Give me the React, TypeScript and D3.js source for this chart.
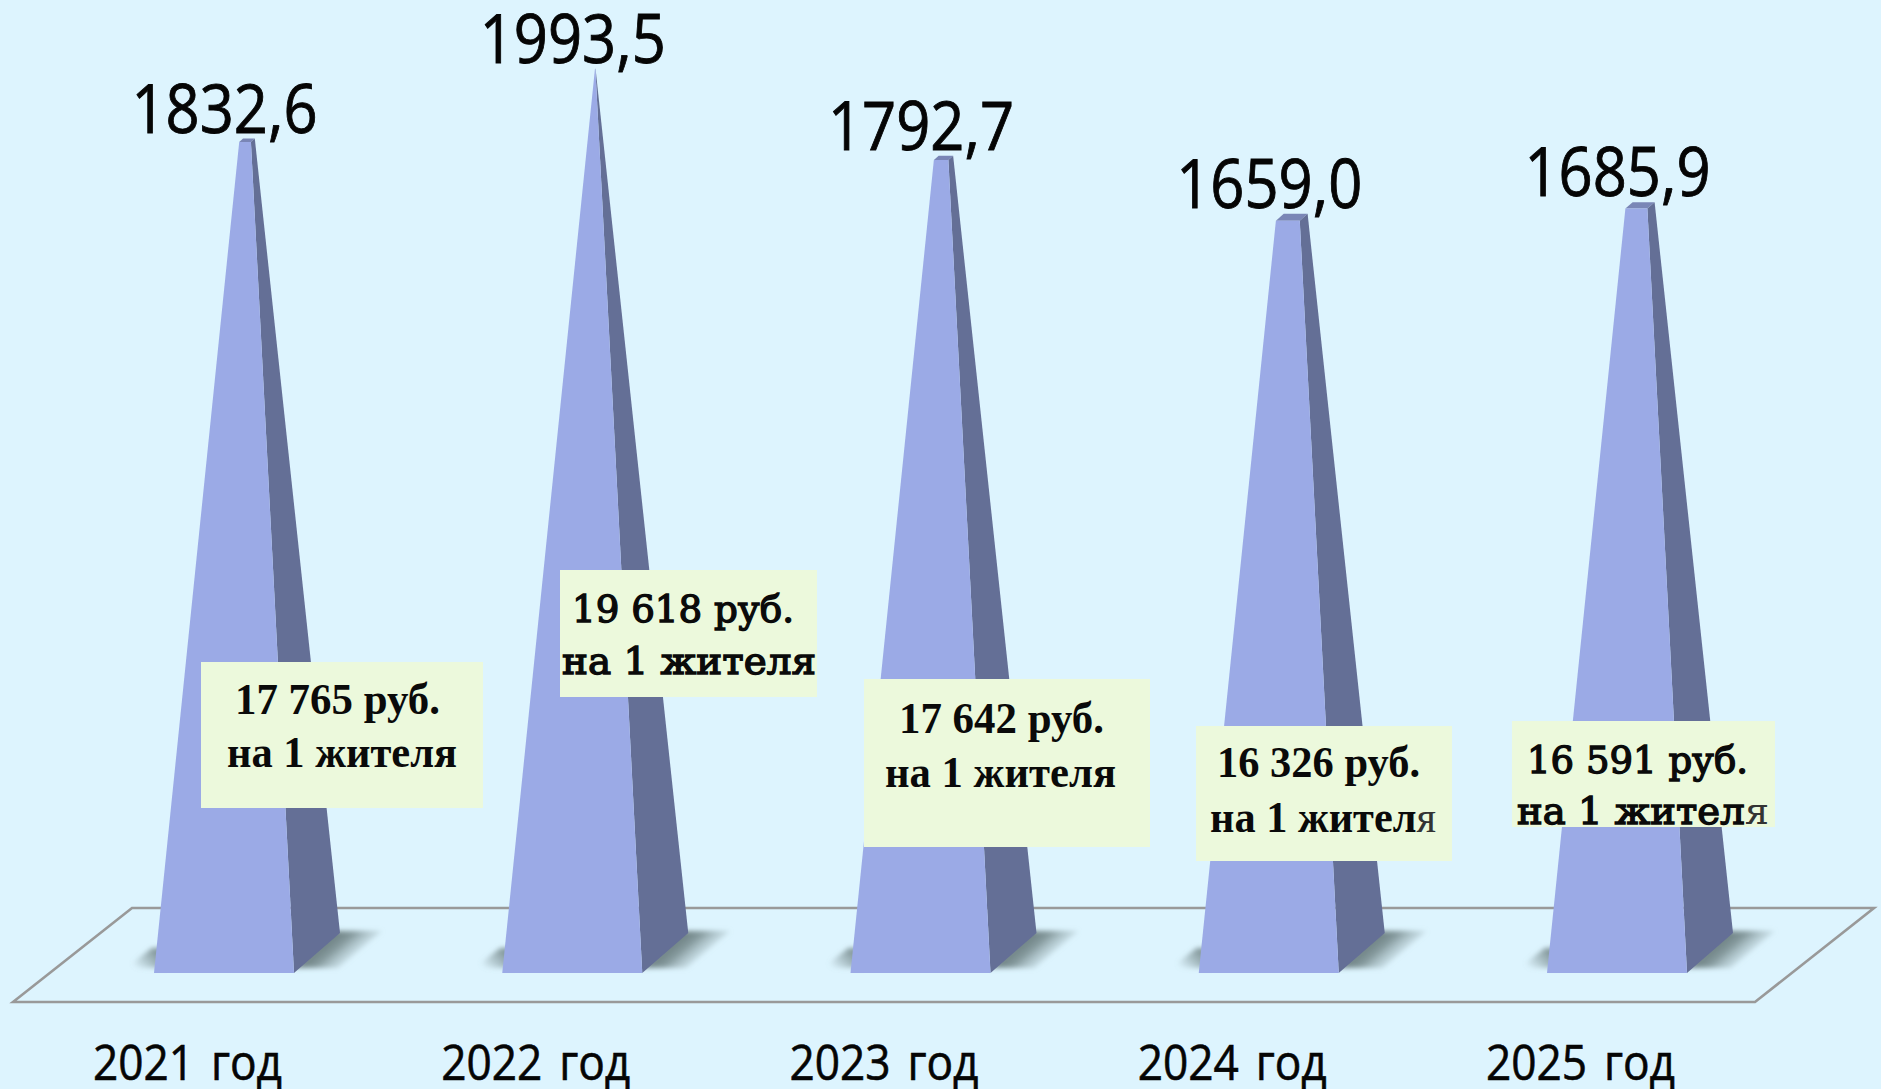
import React from "react";
import * as d3 from "d3";

const years = ["2021 год", "2022 год", "2023 год", "2024 год", "2025 год"];
const totals = [1832.6, 1993.5, 1792.7, 1659.0, 1685.9];
const perResident = ["17 765 руб.", "19 618 руб.", "17 642 руб.", "16 326 руб.", "16 591 руб."];
const residentWord = ["на 1 жителя", "на 1 жителя", "на 1 жителя", "на 1 жителя", "на 1 жителя"];
const thinLastLetter = [false, false, false, true, true];
const axisMax = 2000;

// Annotation placement (x0, y0, x1, y1 of box; per-line text x-range and baseline)
const boxes = [
  { x0: 201, x1: 483, y0: 662, y1: 808, l1: [235, 440, 714], l2: [227, 457, 767], font: "Liberation Serif", size: 44, weight: "bold", stroke: 0 },
  { x0: 560, x1: 817, y0: 570, y1: 697, l1: [572, 794, 622], l2: [562, 816, 674], font: "DejaVu Serif", size: 38, weight: "normal", stroke: 1.4 },
  { x0: 864, x1: 1150, y0: 679, y1: 847, l1: [899, 1104, 733], l2: [885, 1116, 787], font: "Liberation Serif", size: 44, weight: "bold", stroke: 0 },
  { x0: 1196, x1: 1452, y0: 726, y1: 861, l1: [1217, 1420, 777], l2: [1210, 1436, 832], font: "Liberation Serif", size: 44, weight: "bold", stroke: 0 },
  { x0: 1512, x1: 1775, y0: 721, y1: 827, l1: [1527, 1748, 773], l2: [1517, 1769, 824], font: "DejaVu Serif", size: 38, weight: "normal", stroke: 1.4 },
];

const W = 1881, H = 1089;
const BG = "#DDF4FE";
const FRONT = "#9BAAE6";
const SIDE = "#646F96";
const TOP = "#7A86B6";

// Chart geometry
const frontWidth = 140, depthX = 46, depthY = 40;
const baseFrontY = 973, apexY = 66;
const x = d3.scalePoint<string>().domain(years).range([154, 154 + 348.25 * 4]);
const t = d3.scaleLinear().domain([0, axisMax]).range([0, 1]);

type Pt = [number, number];
const lerp = (a: Pt, b: Pt, k: number): Pt => [a[0] + (b[0] - a[0]) * k, a[1] + (b[1] - a[1]) * k];
const poly = (pts: Pt[]) => (d3.line()(pts) as string) + "Z";

function bar(year: string, value: number) {
  const x0 = x(year) as number;
  const k = t(value);
  const FL: Pt = [x0, baseFrontY];
  const FR: Pt = [x0 + frontWidth, baseFrontY];
  const BR: Pt = [x0 + frontWidth + depthX, baseFrontY - depthY];
  const BL: Pt = [x0 + depthX, baseFrontY - depthY];
  const apex: Pt = [x0 + frontWidth / 2 + depthX / 2, apexY];
  return {
    x0,
    FL, FR, BR,
    tFL: lerp(FL, apex, k),
    tFR: lerp(FR, apex, k),
    tBR: lerp(BR, apex, k),
    tBL: lerp(BL, apex, k),
  };
}

function AnnotationLine({ text, thin, box, pos }: any) {
  const [a, b, base] = pos;
  const head = thin ? text.slice(0, -1) : text;
  return (
    <text x={a} y={base} textLength={b - a} lengthAdjust="spacingAndGlyphs"
      fontFamily={box.font} fontSize={box.size} fontWeight={box.weight} fill="#0a0a0a"
      stroke="#0a0a0a" strokeWidth={box.stroke}>
      {head}
      {thin ? <tspan fontWeight="normal" fill="#333" stroke="none">{text.slice(-1)}</tspan> : null}
    </text>
  );
}

export default function App() {
  const bars = years.map((y, i) => bar(y, totals[i]));
  return (
    <svg width={W} height={H} viewBox={`0 0 ${W} ${H}`}
      style={{ position: "absolute", left: 0, top: 0, display: "block" }}>
      <defs>
        <filter id="sh" x="-30%" y="-30%" width="160%" height="160%">
          <feGaussianBlur stdDeviation="2.5" />
        </filter>
        <linearGradient id="shR" gradientUnits="userSpaceOnUse" x1={163} y1={950} x2={186} y2={977}>
          <stop offset="0" stopColor="#6f8284" />
          <stop offset="0.3" stopColor="#7f9396" stopOpacity="0.95" />
          <stop offset="1" stopColor="#a9bfc4" stopOpacity="0" />
        </linearGradient>
        <linearGradient id="shL" x1="0" x2="1" y1="0.9" y2="0.4">
          <stop offset="0.15" stopColor="#7f9396" stopOpacity="0" />
          <stop offset="0.85" stopColor="#7f9396" stopOpacity="0.9" />
          <stop offset="1" stopColor="#7f9396" />
        </linearGradient>
      </defs>
      <rect width={W} height={H} fill={BG} />

      <path d={poly([[13, 1002], [132, 908], [1874, 908], [1755, 1002]])} fill="none" stroke="#999" strokeWidth={2.6} />

      {bars.map((b, i) => (
        <g key={"s" + i} transform={`translate(${b.x0},0)`}>
          <path filter="url(#sh)" fill="url(#shL)"
            d={poly([[-28, 968], [-2, 948], [12, 948], [12, 968]])} />
          <path filter="url(#sh)" fill="url(#shR)"
            d={poly([[frontWidth, 968], [frontWidth + depthX - 6, 931], [frontWidth + depthX + 42, 931], [frontWidth + 44, 968]])} />
        </g>
      ))}

      {bars.map((b, i) => (
        <g key={"b" + i}>
          <path d={poly([b.tFL, b.tFR, b.tBR, b.tBL])} fill={TOP} />
          <path d={poly([b.FR, b.BR, b.tBR, b.tFR])} fill={SIDE} />
          <path d={poly([b.FL, b.FR, b.tFR, b.tFL])} fill={FRONT} />
        </g>
      ))}

      {bars.map((b, i) => (
        <text key={"v" + i} x={b.x0 - 22.5} y={b.tBR[1] - 6} textLength={186} lengthAdjust="spacingAndGlyphs"
          fontFamily="'Open Sans'" fontSize={67} fill="#050505" stroke="#050505" strokeWidth={0.9}>
          {totals[i].toFixed(1).replace(".", ",")}
        </text>
      ))}

      {years.map((y, i) => (
        <text key={y} x={(x(y) as number) - 61} y={1080} textLength={189} lengthAdjust="spacingAndGlyphs"
          fontFamily="'Open Sans'" fontSize={49} wordSpacing={6} fill="#050505" stroke="#050505" strokeWidth={0.6}>
          {y}
        </text>
      ))}

      {boxes.map((bx, i) => (
        <g key={"a" + i}>
          <rect x={bx.x0} y={bx.y0} width={bx.x1 - bx.x0} height={bx.y1 - bx.y0} fill="#ECF9DC" />
          <AnnotationLine text={perResident[i]} thin={false} box={bx} pos={bx.l1} />
          <AnnotationLine text={residentWord[i]} thin={thinLastLetter[i]} box={bx} pos={bx.l2} />
        </g>
      ))}
    </svg>
  );
}
